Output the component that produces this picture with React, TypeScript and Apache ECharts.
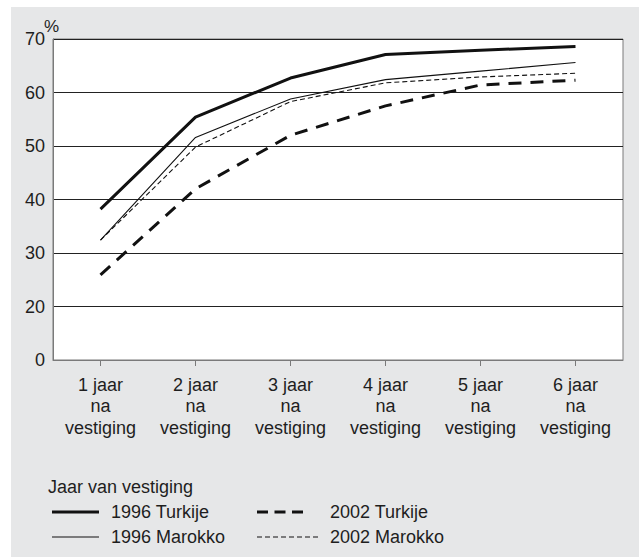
import React, { useEffect, useRef } from "react";
import * as echarts from "echarts";

const categories = [
  "1 jaar\nna\nvestiging",
  "2 jaar\nna\nvestiging",
  "3 jaar\nna\nvestiging",
  "4 jaar\nna\nvestiging",
  "5 jaar\nna\nvestiging",
  "6 jaar\nna\nvestiging",
];
const turkije1996 = [38.2, 55.4, 62.7, 67.1, 67.9, 68.6];
const marokko1996 = [32.4, 51.6, 58.8, 62.4, 64.0, 65.6];
const turkije2002 = [25.9, 42.0, 52.0, 57.5, 61.4, 62.3];
const marokko2002 = [32.4, 49.8, 58.3, 61.8, 62.9, 63.6];
const seriesNames = ["1996 Turkije", "1996 Marokko", "2002 Turkije", "2002 Marokko"];
const legendTitle = "Jaar van vestiging";
const unitLabel = "%";

const FONT = "'Liberation Sans', Arial, Helvetica, sans-serif";
const TXT = "#1e1e1e";

export default function App() {
  const ref = useRef<HTMLDivElement>(null);
  useEffect(() => {
    if (!ref.current) return;
    const chart = echarts.init(ref.current, undefined, { renderer: "svg" });
    const styles = [
      { width: 3, type: "solid" as any },
      { width: 1.1, type: "solid" as any },
      { width: 3, type: [13, 9] as any },
      { width: 1.1, type: [5, 3] as any },
    ];
    const datas = [turkije1996, marokko1996, turkije2002, marokko2002];
    const legendPos = [
      { x: 52, y: 512 },
      { x: 52, y: 537 },
      { x: 257, y: 512 },
      { x: 257, y: 537 },
    ];
    const legendGraphics: any[] = [];
    legendGraphics.push({
      type: "text",
      x: 48,
      y: 487,
      style: { text: legendTitle, fontSize: 18, fontFamily: FONT, fill: TXT, verticalAlign: "middle" },
    });
    seriesNames.forEach((n, i) => {
      const p = legendPos[i];
      const len = i === 2 ? 46 : i === 3 ? 62 : 47;
      legendGraphics.push({
        type: "line",
        shape: { x1: p.x, y1: p.y, x2: p.x + len, y2: p.y },
        style: {
          stroke: "#111",
          lineWidth: styles[i].width,
          lineDash: i === 2 ? [11, 6.5] : i === 3 ? [5, 3] : null,
        },
      });
      legendGraphics.push({
        type: "text",
        x: i < 2 ? 111 : 330,
        y: p.y,
        style: {
          text: n,
          fontSize: 18,
          fontFamily: FONT,
          fill: TXT,
          verticalAlign: "middle",
        },
      });
    });
    chart.setOption({
      animation: false,
      textStyle: { fontFamily: FONT },
      grid: {
        left: 53,
        top: 39,
        right: 16,
        bottom: 197,
        show: true,
        backgroundColor: "#ffffff",
        borderColor: "#7a7a7a",
        borderWidth: 1,
      },
      xAxis: {
        type: "category",
        data: categories,
        boundaryGap: true,
        axisLine: { show: true, lineStyle: { color: "#7a7a7a" } },
        axisTick: { show: true, alignWithLabel: true, length: 6, lineStyle: { color: "#7a7a7a" } },
        axisLabel: {
          fontSize: 18,
          lineHeight: 21.5,
          color: TXT,
          margin: 14,
          interval: 0,
          fontFamily: FONT,
        },
        splitLine: { show: false },
      },
      yAxis: {
        type: "value",
        min: 10,
        max: 70,
        interval: 10,
        axisLine: { show: true, lineStyle: { color: "#7a7a7a" } },
        axisTick: { show: false },
        axisLabel: {
          fontSize: 18,
          color: TXT,
          margin: 8,
          fontFamily: FONT,
          formatter: (v: number) => (v === 10 ? "0" : String(v)),
        },
        splitLine: { show: true, lineStyle: { color: "#222", width: 1 } },
      },
      graphic: [
        {
          type: "text",
          x: 44,
          y: 26,
          style: { text: unitLabel, fontSize: 17, fontFamily: FONT, fill: TXT, verticalAlign: "middle" },
        },
        ...legendGraphics,
      ],
      series: datas.map((d, i) => ({
        name: seriesNames[i],
        type: "line",
        data: d,
        symbol: "none",
        lineStyle: { color: "#111", width: styles[i].width, type: styles[i].type },
        z: 3,
      })),
    });
    return () => chart.dispose();
  }, []);
  return (
    <div style={{ position: "fixed", left: 0, top: 0, width: 639, height: 557, background: "#fff" }}>
      <div
        style={{
          position: "absolute",
          left: 11,
          top: 7,
          width: 628,
          height: 550,
          background: "#e6e7e8",
        }}
      />
      <div ref={ref} style={{ position: "absolute", left: 0, top: 0, width: 639, height: 557 }} />
    </div>
  );
}
